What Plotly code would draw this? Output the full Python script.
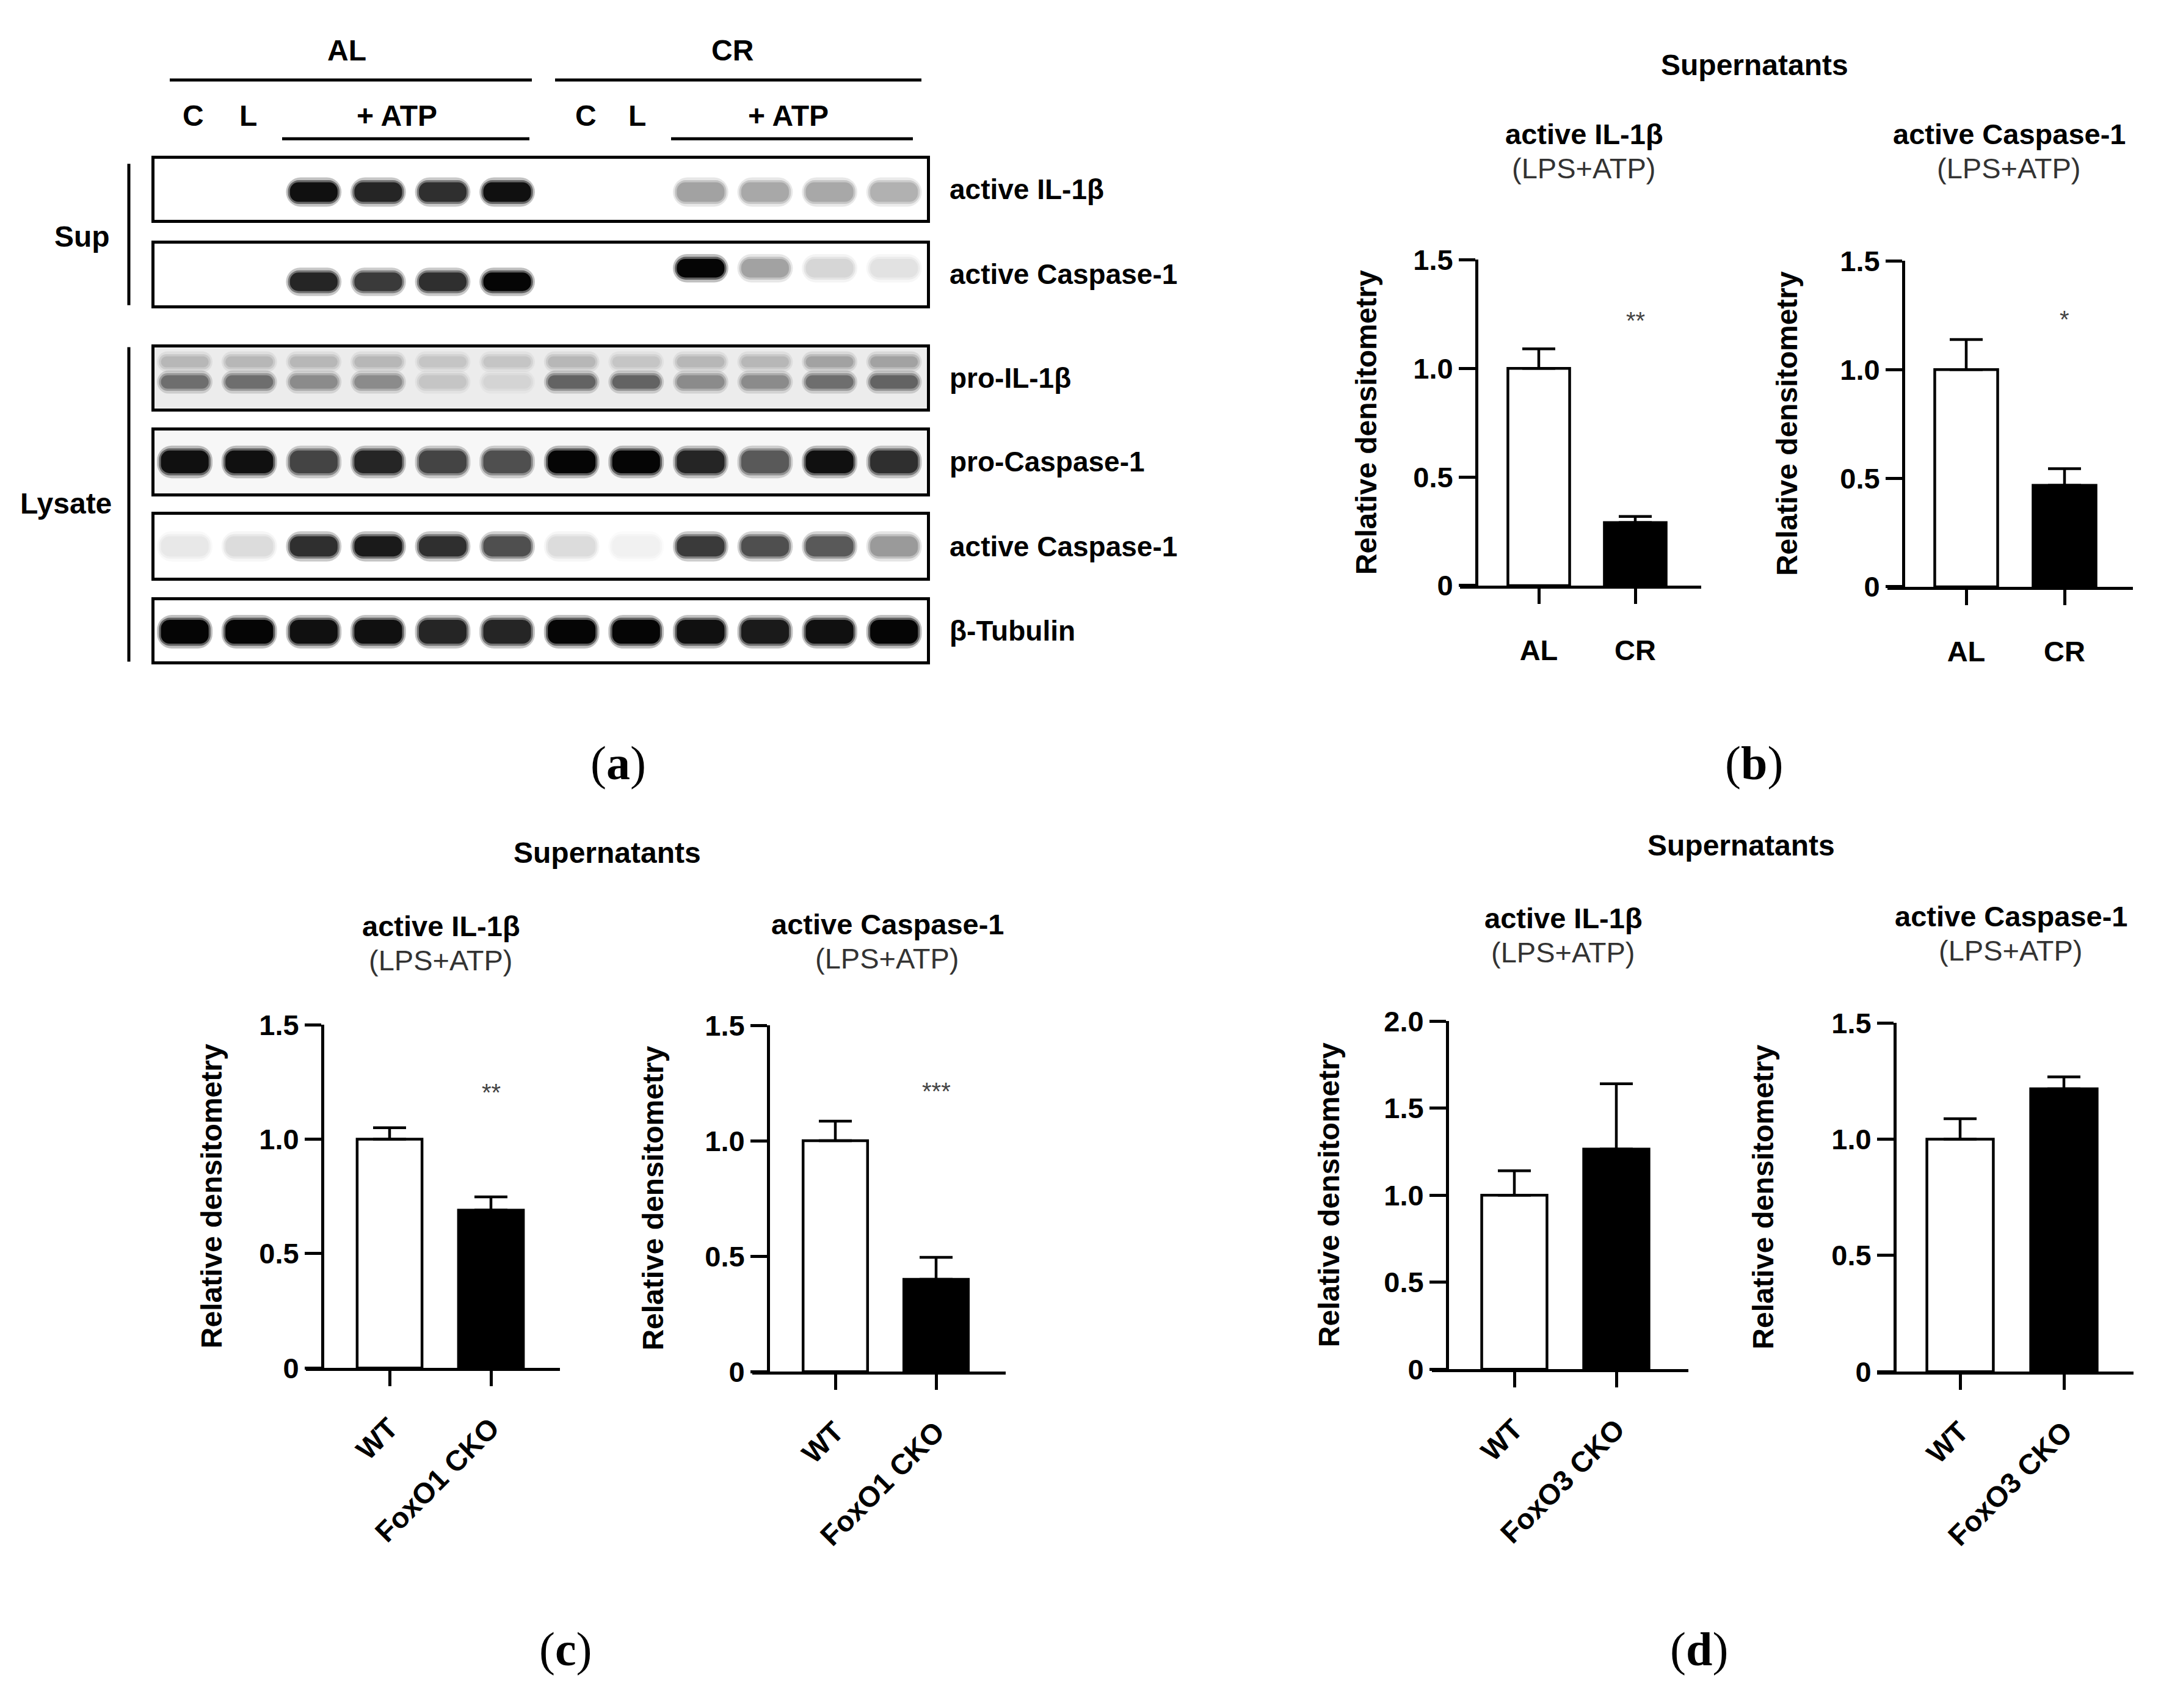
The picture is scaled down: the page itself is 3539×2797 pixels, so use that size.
import plotly.graph_objects as go

W, H = 3539, 2797
SANS = "Liberation Sans, Arial, sans-serif"
SERIF = "Liberation Serif, Times New Roman, serif"

# ---------------- panel (a): western blot ----------------
# band intensity per lane, 0 = no band .. 1 = saturated
lanes = list(range(12))
sup_il1b = [0, 0, 0.95, 0.85, 0.8, 0.95, 0, 0, 0.32, 0.3, 0.3, 0.27]
sup_casp1 = [0, 0, 0.85, 0.75, 0.8, 1.0, 0, 0, 1.0, 0.32, 0.14, 0.1]
pro_il1b_upper = [0.25, 0.25, 0.25, 0.25, 0.2, 0.2, 0.25, 0.2, 0.25, 0.25, 0.32, 0.32]
pro_il1b_lower = [0.5, 0.5, 0.4, 0.4, 0.2, 0.15, 0.55, 0.55, 0.4, 0.4, 0.5, 0.55]
pro_casp1 = [0.95, 0.95, 0.7, 0.85, 0.7, 0.65, 1.0, 1.0, 0.85, 0.6, 0.95, 0.8]
lys_casp1 = [0.08, 0.12, 0.8, 0.9, 0.8, 0.65, 0.12, 0.05, 0.75, 0.65, 0.6, 0.35]
tubulin = [1.0, 1.0, 0.95, 0.95, 0.85, 0.85, 1.0, 1.0, 0.95, 0.9, 0.95, 1.0]
blot_labels = ["active IL-1β", "active Caspase-1", "pro-IL-1β",
               "pro-Caspase-1", "active Caspase-1", "β-Tubulin"]

# ---------------- panels (b)-(d): densitometry ----------------
b_groups = ["AL", "CR"]
b_il1b_mean = [1.0, 0.29]
b_il1b_sem = [0.09, 0.028]
b_casp1_mean = [1.0, 0.467]
b_casp1_sem = [0.138, 0.077]

c_groups = ["WT", "FoxO1 CKO"]
c_il1b_mean = [1.0, 0.69]
c_il1b_sem = [0.05, 0.058]
c_casp1_mean = [1.0, 0.40]
c_casp1_sem = [0.085, 0.095]

d_groups = ["WT", "FoxO3 CKO"]
d_il1b_mean = [1.0, 1.265]
d_il1b_sem = [0.14, 0.375]
d_casp1_mean = [1.0, 1.217]
d_casp1_sem = [0.088, 0.051]

axis_ticks_15 = [0, 0.5, 1.0, 1.5]
axis_ticks_20 = [0, 0.5, 1.0, 1.5, 2.0]


def fx(x):
    return x / W


def fy(y):
    return 1 - y / H


def refs(n):
    return ("x" if n == 1 else f"x{n}", "y" if n == 1 else f"y{n}",
            "xaxis" if n == 1 else f"xaxis{n}", "yaxis" if n == 1 else f"yaxis{n}")


def ann(text, x, y, size=48, color="black", family=SANS, xanchor="center",
        angle=0, xref="paper", yref="paper", px=True):
    return dict(text=text, x=fx(x) if px else x, y=fy(y) if px else y,
                xref=xref, yref=yref, showarrow=False, xanchor=xanchor,
                yanchor="middle", textangle=angle,
                font=dict(size=size, color=color, family=family))


BAND_SCALE = [[0, "#ffffff"], [0.5, "#6e6e6e"], [1, "#050505"]]

fig = go.Figure()
layout = dict(width=W, height=H, margin=dict(l=0, r=0, t=0, b=0),
              paper_bgcolor="white", plot_bgcolor="white", barmode="overlay",
              showlegend=False, font=dict(family=SANS, color="black"),
              annotations=[], shapes=[])

# blot rows: (top px, bottom px, membrane tint, [(intensities, centre, thickness)])
blot_rows = [
    (237, 339, None, [(sup_il1b, 0.45, 0.32)]),
    (379, 482, None, [(sup_casp1, [0.38] * 6 + [0.6] * 6, 0.3)]),
    (552, 654, "#ececec", [(pro_il1b_upper, 0.76, 0.18), (pro_il1b_lower, 0.43, 0.22)]),
    (691, 796, "#f7f7f7", [(pro_casp1, 0.5, 0.36)]),
    (832, 937, None, [(lys_casp1, 0.5, 0.32)]),
    (974, 1076, None, [(tubulin, 0.48, 0.39)]),
]

n = 0
for (top, bot, tint, bands), label in zip(blot_rows, blot_labels):
    n += 1
    xr, yr, xk, yk = refs(n)
    if tint:
        layout["shapes"].append(dict(type="rect", xref=f"{xr} domain", yref=f"{yr} domain",
                                     x0=0, x1=1, y0=0, y1=1, fillcolor=tint,
                                     line=dict(width=0), layer="below"))
    for vals, centre, thick in bands:
        cen = centre if isinstance(centre, list) else [centre] * len(lanes)
        # blurred edge: wide faint halo, softer middle, solid core
        for extra, width, alpha, rad in [(0.16, 0.86, 0.25, 24), (0.07, 0.8, 0.5, 18),
                                         (0.0, 0.74, 1.0, 14)]:
            h = thick + extra
            fig.add_trace(go.Bar(
                x=lanes, y=[h] * len(lanes), base=[c - h / 2 for c in cen],
                width=width, opacity=alpha, xaxis=xr, yaxis=yr, hoverinfo="skip",
                marker=dict(color=vals, colorscale=BAND_SCALE, cmin=0, cmax=1,
                            line=dict(width=0), cornerradius=rad)))
    frame = dict(showline=True, mirror=True, linecolor="black", linewidth=5,
                 showticklabels=False, ticks="", showgrid=False, zeroline=False)
    layout[xk] = dict(frame, domain=[fx(253), fx(1518)], range=[-0.47, 11.51], anchor=yr)
    layout[yk] = dict(frame, domain=[fy(bot), fy(top)], range=[0, 1], anchor=xr)
    layout["annotations"].append(
        ann(f"<b>{label}</b>", 1553, (top + bot) / 2, size=46, xanchor="left"))

# blot headers
for text, x, y in [("AL", 568, 57), ("CR", 1199, 57),
                   ("C", 316, 166), ("L", 406, 166), ("+ ATP", 650, 166),
                   ("C", 959, 166), ("L", 1043, 166), ("+ ATP", 1291, 166),
                   ("Sup", 134, 367), ("Lysate", 108, 813)]:
    layout["annotations"].append(ann(f"<b>{text}</b>", x, y, size=48))

for x0, y0, x1, y1 in [(278, 106, 871, 106), (909, 106, 1509, 106),
                       (462, 204, 867, 204), (1099, 204, 1495, 204),
                       (211, 246, 211, 482), (211, 552, 211, 1077)]:
    layout["shapes"].append(dict(type="line", xref="paper", yref="paper",
                                 x0=fx(x0), y0=fy(y0), x1=fx(x1), y1=fy(y1),
                                 line=dict(color="black", width=5)))

# ---------------- bar charts ----------------
# layout per chart: x-axis line px, y-axis px, category centre px, y0 px, ytop px
charts = [
    dict(groups=b_groups, mean=b_il1b_mean, sem=b_il1b_sem, ymax=1.5, ticks=axis_ticks_15,
         xs=2391, xe=2786, yx=2418, c0=2520, c1=2678, y0=950, yt=406, star="**", sy=1.22,
         title="active IL-1β", tx=2594, ty=196, angle=0, ytitle_x=2237),
    dict(groups=b_groups, mean=b_casp1_mean, sem=b_casp1_sem, ymax=1.5, ticks=axis_ticks_15,
         xs=3091, xe=3493, yx=3117, c0=3220, c1=3381, y0=952, yt=408, star="*", sy=1.23,
         title="active Caspase-1", tx=3290, ty=196, angle=0, ytitle_x=2926),
    dict(groups=c_groups, mean=c_il1b_mean, sem=c_il1b_sem, ymax=1.5, ticks=axis_ticks_15,
         xs=501, xe=917, yx=528, c0=638, c1=804, y0=2256, yt=1683, star="**", sy=1.205,
         title="active IL-1β", tx=722, ty=1518, angle=-45, ytitle_x=346),
    dict(groups=c_groups, mean=c_casp1_mean, sem=c_casp1_sem, ymax=1.5, ticks=axis_ticks_15,
         xs=1232, xe=1647, yx=1258, c0=1368, c1=1533, y0=2262, yt=1684, star="***", sy=1.215,
         title="active Caspase-1", tx=1453, ty=1515, angle=-45, ytitle_x=1070),
    dict(groups=d_groups, mean=d_il1b_mean, sem=d_il1b_sem, ymax=2.0, ticks=axis_ticks_20,
         xs=2345, xe=2765, yx=2370, c0=2480, c1=2647, y0=2258, yt=1677, star="", sy=0,
         title="active IL-1β", tx=2560, ty=1505, angle=-45, ytitle_x=2176),
    dict(groups=d_groups, mean=d_casp1_mean, sem=d_casp1_sem, ymax=1.5, ticks=axis_ticks_15,
         xs=3074, xe=3494, yx=3103, c0=3210, c1=3380, y0=2262, yt=1680, star="", sy=0,
         title="active Caspase-1", tx=3293, ty=1502, angle=-45, ytitle_x=2888),
]

for ch in charts:
    n += 1
    xr, yr, xk, yk = refs(n)
    fig.add_trace(go.Bar(
        x=[0, 1], y=ch["mean"], width=0.64, xaxis=xr, yaxis=yr,
        marker=dict(color=["white", "black"], line=dict(color="black", width=4.5)),
        error_y=dict(type="data", array=ch["sem"], arrayminus=[0, 0], symmetric=False,
                     color="black", thickness=4.5, width=27)))
    unit = ch["c1"] - ch["c0"]
    tick_font = dict(size=47, family=SANS, color="black", weight="bold")
    layout[xk] = dict(domain=[fx(ch["xs"]), fx(ch["xe"])],
                      range=[(ch["xs"] - ch["c0"]) / unit, (ch["xe"] - ch["c0"]) / unit],
                      anchor=yr, showline=True, linecolor="black", linewidth=5,
                      ticks="outside", ticklen=25, tickwidth=5, tickcolor="black",
                      tickvals=[0, 1], ticktext=ch["groups"], tickfont=tick_font,
                      tickangle=ch["angle"], ticklabelstandoff=36 if ch["angle"] == 0 else 22,
                      showgrid=False, zeroline=False)
    layout[yk] = dict(domain=[fy(ch["y0"]), fy(ch["yt"])], range=[0, ch["ymax"]],
                      anchor="free", position=fx(ch["yx"]), showline=True,
                      linecolor="black", linewidth=5, ticks="outside", ticklen=27,
                      tickwidth=5, tickcolor="black", tickvals=ch["ticks"],
                      ticktext=["0" if t == 0 else f"{t:.1f}" for t in ch["ticks"]],
                      tickfont=tick_font, showgrid=False, zeroline=False)
    layout["annotations"].append(
        ann("<b>Relative densitometry</b>", ch["ytitle_x"], (ch["y0"] + ch["yt"]) / 2,
            size=48, angle=-90))
    layout["annotations"].append(ann(f"<b>{ch['title']}</b>", ch["tx"], ch["ty"], size=47))
    layout["annotations"].append(ann("(LPS+ATP)", ch["tx"], ch["ty"] + 57, size=47,
                                     color="#333333"))
    if ch["star"]:
        layout["annotations"].append(
            ann(ch["star"], 1, ch["sy"], size=40, color="#444444", xref=xr, yref=yr, px=False))

for x, y in [(2873, 81), (994, 1396), (2851, 1384)]:
    layout["annotations"].append(ann("<b>Supernatants</b>", x, y, size=48))

for letter, x, y in [("a", 1012, 1246), ("b", 2872, 1246), ("c", 926, 2725), ("d", 2782, 2725)]:
    layout["annotations"].append(ann(f"(<b>{letter}</b>)", x, y, size=78, family=SERIF))

fig.update_layout(layout)
fig.write_html("out.html", config={"displayModeBar": False},
               post_script="document.body.style.margin = '0';")
